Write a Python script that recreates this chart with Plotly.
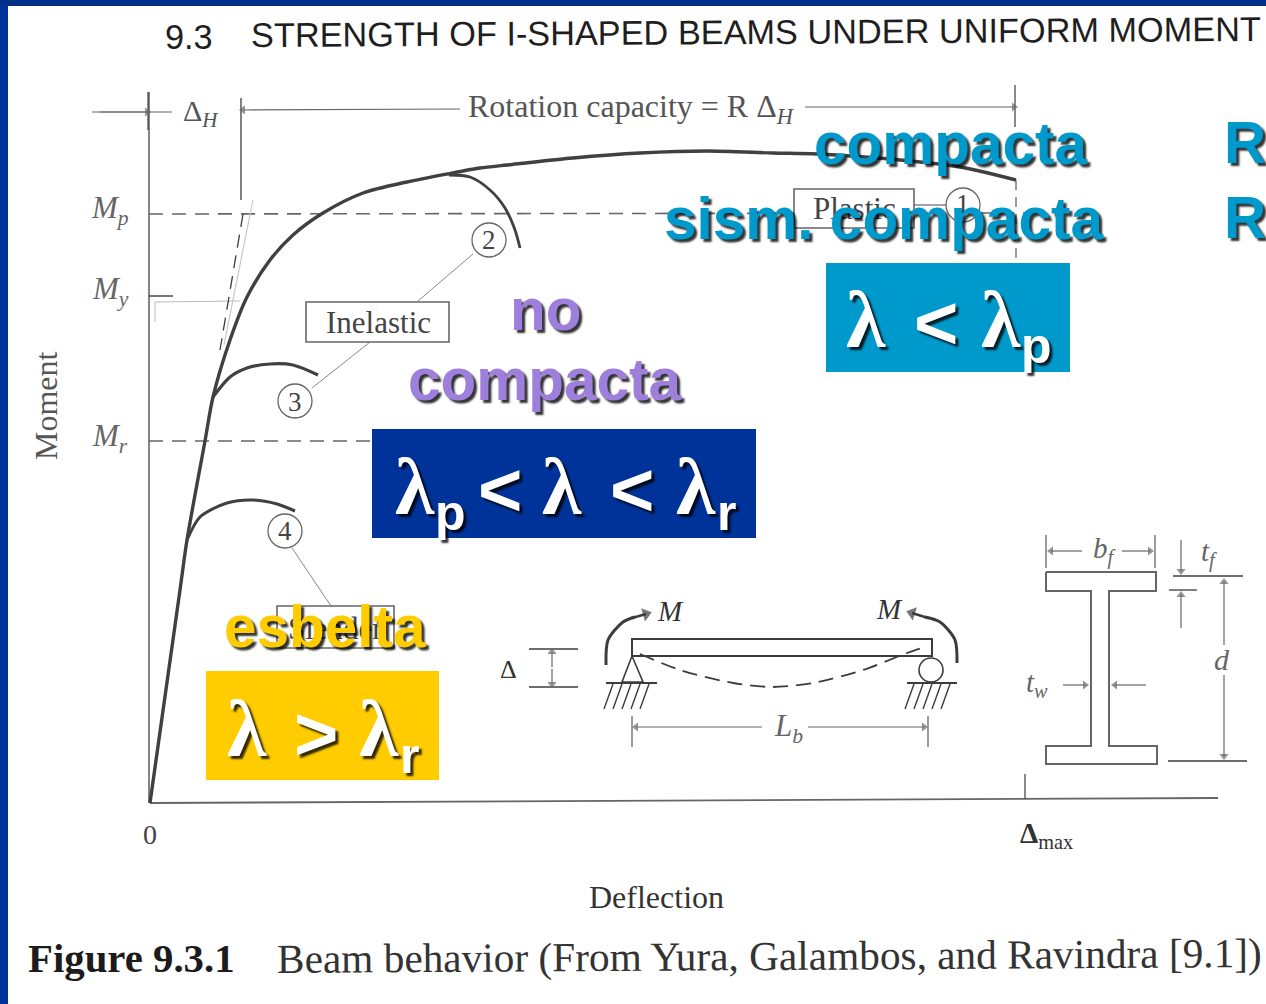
import plotly.graph_objects as go

# ---- data (deflection, moment; origin at the axes corner) ----
main_defl = [0, 30, 37, 55, 63, 80, 97, 120, 143, 173, 213, 257, 297, 330, 357, 423, 490, 557, 623, 667, 750, 810, 866]
main_mom = [0, 213, 263, 362, 406, 463, 506, 543, 568, 590, 610, 621, 629, 635, 638, 645, 650, 652, 650, 649, 643, 636, 623]
b2_defl = [299, 320, 340, 355, 365, 370]
b2_mom = [628, 626, 613, 595, 573, 555]
b3_defl = [63, 80, 97, 120, 143, 168]
b3_mom = [406, 426, 435, 439, 438, 428]
b4_defl = [37, 50, 77, 103, 127, 145]
b4_mom = [263, 286, 300, 303, 299, 292]

DARK = "#3c3c3c"
GREY = "#666666"
NAVY = "#003399"
CYAN = "#0099cc"
GOLD = "#ffcc00"
PURPLE = "#9f7fdc"
SERIF = "Liberation Serif"
SANS = "Liberation Sans"
SHADOW = "3px 3px 2px rgba(0,0,0,0.8)"


def X(px):
    return px - 150


def Y(py):
    return 803 - py


fig = go.Figure()


def line(xs, ys, color=DARK, width=1.5, dash="solid", shape="linear", page=True):
    if page:
        xs = [None if v is None else X(v) for v in xs]
        ys = [None if v is None else Y(v) for v in ys]
    fig.add_trace(go.Scatter(x=xs, y=ys, mode="lines", hoverinfo="skip", showlegend=False,
                             line=dict(color=color, width=width, dash=dash, shape=shape, smoothing=0.8)))


def text(px, py, s, size=24, color="#444444", family=SERIF, angle=0, shadow=None, anchor="center"):
    f = dict(size=size, color=color, family=family)
    if shadow:
        f["shadow"] = shadow
    fig.add_annotation(x=X(px), y=Y(py), text=s, showarrow=False, font=f, textangle=angle,
                       xanchor=anchor, yanchor="middle", align="center")


def arrow(x0, y0, x1, y1, color=GREY, width=1.2, size=8):
    fig.add_trace(go.Scatter(x=[X(x0), X(x1)], y=[Y(y0), Y(y1)], mode="lines+markers",
                             hoverinfo="skip", showlegend=False,
                             line=dict(color=color, width=width),
                             marker=dict(symbol="triangle-up", size=[0, size], color=color,
                                         angleref="previous", line=dict(width=0))))


def rect(x0, y0, x1, y1, fill=None, color=None, width=0, layer="above"):
    fig.add_shape(type="rect", x0=X(x0), x1=X(x1), y0=Y(y0), y1=Y(y1), layer=layer,
                  fillcolor=fill or "rgba(0,0,0,0)",
                  line=dict(color=color or "rgba(0,0,0,0)", width=width))


def circle(cx, cy, r, color=GREY, width=1.3, fill="white"):
    fig.add_shape(type="circle", x0=X(cx - r), x1=X(cx + r), y0=Y(cy - r), y1=Y(cy + r),
                  line=dict(color=color, width=width), fillcolor=fill)


# page frame
rect(0, 0, 8, 1004, fill=NAVY, layer="below")
rect(0, 0, 1266, 6, fill="#002f88", layer="below")

# axes
line([149, 149], [92, 803], color=GREY, width=1.6)
line([150, 1218], [803, 798], color=GREY, width=1.8)
line([1025, 1025], [774, 799], color=DARK, width=1.2)

# reference levels
line([149, 1040], [214, 213], color=GREY, width=1.6, dash="14px 9px")
line([149, 372], [441, 441], color=GREY, width=1.4, dash="14px 9px")
line([149, 173], [296, 296], color=DARK, width=1.4)
line([155, 155, 240], [322, 302, 301], color="#bbbbbb", width=1)
line([243, 220], [214, 350], color=DARK, width=1.3, dash="13px 8px")
line([253, 224], [200, 345], color="#c8c8c8", width=1.2)
line([1016, 1016], [180, 263], color=GREY, width=1.3, dash="10px 7px")

# dimension lines at top
line([148, 148], [92, 130], color=DARK, width=1.2)
line([92, 172], [112, 112], color=GREY, width=1.2)
line([241, 241], [98, 200], color=DARK, width=1.3)
line([1015, 1015], [85, 127], color=DARK, width=1.2)
arrow(100, 112, 147, 112)
arrow(460, 109, 243, 110)
arrow(805, 107, 1014, 107)

# curves, in data units
line(main_defl, main_mom, color="#404040", width=3.4, shape="spline", page=False)
line(b2_defl, b2_mom, color="#404040", width=2.8, shape="spline", page=False)
line(b3_defl, b3_mom, color="#404040", width=3.2, shape="spline", page=False)
line(b4_defl, b4_mom, color="#404040", width=3.0, shape="spline", page=False)

# leaders, labels
line([473, 370], [254, 342], color="#888888", width=1)
line([312, 370], [388, 342], color="#888888", width=1)
line([292, 331], [548, 606], color="#888888", width=1)
line([914, 946], [205, 205], color=GREY, width=1.2)
circle(489, 240, 17)
circle(295, 401, 17)
circle(285, 531, 17)
circle(963, 205, 17)
text(489, 240, "2", 27)
text(295, 402, "3", 27)
text(285, 531, "4", 27)
text(963, 204, "1", 27)
rect(306, 302, 449, 342, color=GREY, width=1.6, fill="white")
text(378, 322, "Inelastic", 31)
rect(794, 189, 914, 228, color=GREY, width=1.6, fill="white")
text(854, 208, "Plastic", 31)
rect(277, 606, 394, 648, color=GREY, width=1.6, fill="white")
text(335, 628, "Slender", 31)

# beam diagram
rect(632, 639, 932, 656, color=DARK, width=2)
line([632, 622, 643, 632], [656, 682, 682, 656], width=1.6)
line([606, 657], [683, 683], width=2.2)
line([907, 957], [683, 683], width=2.2)
hx, hy = [], []
for base in [613, 622, 631, 640, 649, 914, 923, 932, 941, 950]:
    hx += [base, base - 9, None]
    hy += [684, 709, None]
line(hx, hy, width=1.4)
circle(931, 670, 12, color=DARK, width=1.6)
line([640, 680, 733, 773, 813, 863, 907, 925], [654, 670, 683, 687, 683, 670, 653, 647],
     width=1.8, dash="15px 8px", shape="spline")
line([606, 608, 623, 635], [665, 640, 622, 617], width=3, shape="spline")
line([957, 955, 940, 925], [663, 640, 622, 617], width=3, shape="spline")
arrow(632, 618, 646, 614, color=DARK, width=2.5, size=12)
arrow(928, 618, 912, 613, color=DARK, width=2.5, size=12)
text(670, 611, "<i>M</i>", 29, color="#333333")
text(889, 609, "<i>M</i>", 29, color="#333333")
text(508, 669, "Δ", 26, color="#333333")
line([529, 578], [649, 649], width=1.5)
line([529, 578], [687, 687], width=1.5)
arrow(552, 667, 552, 652)
arrow(552, 669, 552, 684)
line([632, 632], [716, 747], color=GREY, width=1.3)
line([928, 928], [716, 747], color=GREY, width=1.3)
arrow(762, 727, 636, 727)
arrow(808, 727, 924, 727)
text(788, 728, "<i>L</i><sub><i>b</i></sub>", 31, color="#666666")

# I section
line([1046, 1156, 1156, 1109, 1109, 1157, 1157, 1046, 1046, 1091, 1091, 1046, 1046],
     [572, 572, 591, 591, 746, 746, 764, 764, 746, 746, 591, 591, 572], color=GREY, width=2)
line([1046, 1046], [535, 568], color=GREY, width=1.3)
line([1155, 1155], [535, 568], color=GREY, width=1.3)
arrow(1082, 551, 1051, 551)
arrow(1122, 551, 1150, 551)
text(1104, 550, "<i>b</i><sub><i>f</i></sub>", 29, color="#666666")
text(1209, 553, "<i>t</i><sub><i>f</i></sub>", 29, color="#666666")
line([1173, 1243], [576, 576], color=DARK, width=1.3)
line([1169, 1197], [590, 590], color=DARK, width=1.3)
line([1168, 1247], [761, 761], color=DARK, width=1.3)
arrow(1181, 540, 1181, 571)
arrow(1181, 628, 1181, 595)
arrow(1224, 645, 1224, 582)
arrow(1224, 675, 1224, 756)
text(1222, 659, "<i>d</i>", 30, color="#666666")
arrow(1063, 685, 1085, 685)
arrow(1146, 685, 1115, 685)
text(1037, 684, "<i>t</i><sub><i>w</i></sub>", 29, color="#666666")

# axis texts
text(46, 406, "Moment", 32, angle=-90, color="#555555")
text(150, 834, "0", 28, color="#444444")
text(656, 897, "Deflection", 32, color="#333333")
text(1046, 835, "<b>Δ</b><sub>max</sub>", 29, color="#333333")
text(110, 210, "<i>M</i><sub><i>p</i></sub>", 31, color="#666666")
text(110, 291, "<i>M</i><sub><i>y</i></sub>", 31, color="#666666")
text(110, 438, "<i>M</i><sub><i>r</i></sub>", 31, color="#666666")
text(201, 113, "Δ<sub><i>H</i></sub>", 30, color="#555555")
text(631, 108, "Rotation capacity = R Δ<sub><i>H</i></sub>", 32, color="#555555")

# header and caption
text(163, 37, "9.3", 34.3, color="#1f1f1f", family=SANS, anchor="left")
text(249, 32, "STRENGTH OF I-SHAPED BEAMS UNDER UNIFORM MOMENT", 34.3, color="#1f1f1f",
     family=SANS, anchor="left", angle=-0.35)
text(26, 958, "<b>Figure 9.3.1</b>", 40.8, color="#1c1c1c", anchor="left")
text(275, 956, "Beam behavior (From Yura, Galambos, and Ravindra [9.1])", 41.3, color="#333333",
     anchor="left", angle=-0.35)

# coloured overlays
for x0, y0, x1, y1, c in [(826, 263, 1070, 372, CYAN), (372, 429, 756, 538, NAVY), (206, 671, 439, 780, GOLD)]:
    rect(x0, y0, x1, y1, fill=c)

HEAD = dict(family=SANS, shadow=SHADOW, size=58.5)
text(951, 143, "<b>compacta</b>", color=CYAN, **HEAD)
text(883, 218, "<b>sism. compacta</b>", color=CYAN, **HEAD)
text(545, 309, "<b>no</b>", color=PURPLE, **HEAD)
text(545, 379, "<b>compacta</b>", color=PURPLE, **HEAD)
text(325, 626, "<b>esbelta</b>", color=GOLD, **HEAD)
text(1222, 142, "<b>R</b>", color=CYAN, anchor="left", **HEAD)
text(1222, 217, "<b>R</b>", color=CYAN, anchor="left", **HEAD)

SYM = dict(family=SERIF, shadow=SHADOW, color="white", size=80)
OP = dict(family=SANS, shadow=SHADOW, color="white", size=76)
SUB = dict(family=SANS, shadow=SHADOW, color="white", size=50)
for px, py, s, st in [
    (866, 320, "<b>λ</b>", SYM), (936, 322, "<b><</b>", OP), (1001, 320, "<b>λ</b>", SYM), (1036, 346, "<b>p</b>", SUB),
    (415, 487, "<b>λ</b>", SYM), (500, 489, "<b><</b>", OP), (562, 487, "<b>λ</b>", SYM), (632, 489, "<b><</b>", OP),
    (696, 487, "<b>λ</b>", SYM), (450, 513, "<b>p</b>", SUB), (726, 513, "<b>r</b>", SUB),
    (247, 729, "<b>λ</b>", SYM), (316, 733, "<b>></b>", OP), (379, 729, "<b>λ</b>", SYM), (409, 756, "<b>r</b>", SUB),
]:
    text(px, py, s, **st)

fig.update_layout(
    width=1266, height=1004, margin=dict(l=0, r=0, t=0, b=0), autosize=False,
    paper_bgcolor="white", plot_bgcolor="white", showlegend=False,
    xaxis=dict(range=[-150, 1116], visible=False, fixedrange=True),
    yaxis=dict(range=[-201, 803], visible=False, fixedrange=True),
)
fig.write_html("out.html", config={"displayModeBar": False},
               post_script="document.body.style.margin='0';document.body.style.overflow='hidden';")
